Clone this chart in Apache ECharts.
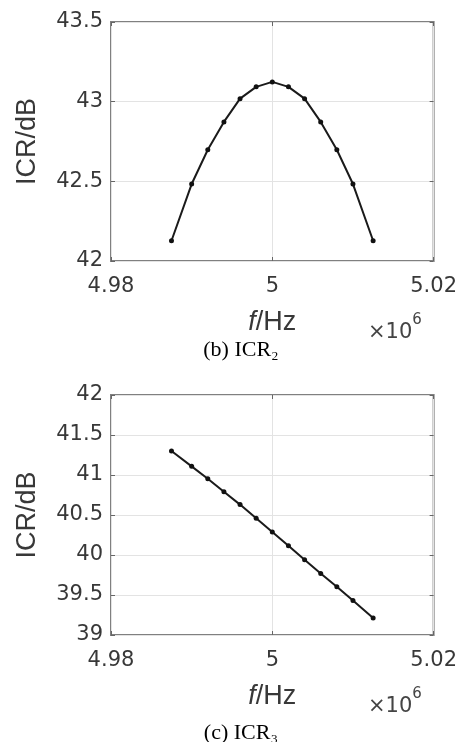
<!DOCTYPE html>
<html>
<head>
<meta charset="utf-8">
<script src="https://cdn.jsdelivr.net/npm/echarts@6/dist/echarts.min.js"></script>
<style>
  html, body { margin: 0; padding: 0; background: #fff; }
  #chart { width: 460px; height: 742px; }
</style>
</head>
<body>
<div id="chart"></div>
<script>
// frequency points in Hz (axis shows them in units of 10^6)
const freqHz = [4987500, 4990000, 4992000, 4994000, 4996000, 4998000, 5000000,
                5002000, 5004000, 5006000, 5008000, 5010000, 5012500];
// ICR2 in dB (panel b)
const icr2 = [42.127, 42.483, 42.698, 42.873, 43.019, 43.093, 43.124,
              43.093, 43.019, 42.873, 42.698, 42.483, 42.127];
// ICR3 in dB (panel c)
const icr3 = [41.300, 41.108, 40.954, 40.790, 40.630, 40.458, 40.288,
              40.117, 39.942, 39.770, 39.604, 39.430, 39.213];

const xTicks = { min: 4980000, max: 5020000, interval: 20000 };
const yTicksB = { min: 42, max: 43.5, interval: 0.5 };
const yTicksC = { min: 39, max: 42, interval: 0.5 };

const tickFont = 'DejaVu Sans';
const nameFont = 'Liberation Sans';
const textColor = '#383838';

const chart = echarts.init(document.getElementById('chart'), null, { renderer: 'canvas' });

function mainX(gridIndex) {
  return {
    type: 'value', gridIndex: gridIndex,
    min: xTicks.min, max: xTicks.max, interval: xTicks.interval,
    name: '{i|f}/Hz', nameLocation: 'middle', nameGap: 48,
    nameTextStyle: {
      fontFamily: nameFont, fontSize: 27, color: textColor,
      rich: { i: { fontFamily: nameFont, fontSize: 27, fontStyle: 'italic', color: textColor } }
    },
    axisLine: { show: false },
    axisTick: { show: true, inside: true, length: 4, lineStyle: { color: '#666' } },
    axisLabel: {
      margin: 15, fontFamily: tickFont, fontSize: 21, color: textColor,
      formatter: v => String(+(v / 1e6).toFixed(2))
    },
    splitLine: { show: true, lineStyle: { color: '#e3e3e3', width: 1 } }
  };
}
function topX(gridIndex) {
  return {
    type: 'value', gridIndex: gridIndex, position: 'top',
    min: xTicks.min, max: xTicks.max, interval: xTicks.interval,
    axisLine: { show: false },
    axisTick: { show: true, inside: true, length: 4, lineStyle: { color: '#666' } },
    axisLabel: { show: false }, splitLine: { show: false }
  };
}
function mainY(gridIndex, t) {
  return {
    type: 'value', gridIndex: gridIndex,
    min: t.min, max: t.max, interval: t.interval,
    name: 'ICR/dB', nameLocation: 'middle', nameGap: 70, nameRotate: 90,
    nameTextStyle: { fontFamily: nameFont, fontSize: 27, color: textColor },
    axisLine: { show: false },
    axisTick: { show: true, inside: true, length: 4, lineStyle: { color: '#666' } },
    axisLabel: { margin: 8, fontFamily: tickFont, fontSize: 21, color: textColor },
    splitLine: { show: true, lineStyle: { color: '#e3e3e3', width: 1 } }
  };
}
function rightY(gridIndex, t) {
  return {
    type: 'value', gridIndex: gridIndex, position: 'right',
    min: t.min, max: t.max, interval: t.interval,
    axisLine: { show: false },
    axisTick: { show: true, inside: true, length: 4, lineStyle: { color: '#666' } },
    axisLabel: { show: false }, splitLine: { show: false }
  };
}
function curve(name, xIdx, yIdx, values) {
  return {
    name: name, type: 'line', xAxisIndex: xIdx, yAxisIndex: yIdx,
    data: freqHz.map((f, i) => [f, values[i]]),
    symbol: 'circle', symbolSize: 5, showSymbol: true,
    lineStyle: { color: '#1a1a1a', width: 2 },
    itemStyle: { color: '#111' },
    animation: false
  };
}
function exponent(x, y) {
  return {
    type: 'text', left: x, top: y,
    style: {
      text: '{a|×10}{b|6}',
      rich: {
        a: { fontFamily: tickFont, fontSize: 21, fill: '#444', lineHeight: 30, verticalAlign: 'bottom' },
        b: { fontFamily: tickFont, fontSize: 15, fill: '#444', lineHeight: 30, verticalAlign: 'top' }
      }
    }
  };
}
function caption(text, y) {
  return {
    type: 'text', x: 241, y: y,
    style: {
      text: text, fontFamily: 'Liberation Serif', fontSize: 22, fill: '#000',
      textAlign: 'center', textVerticalAlign: 'middle'
    }
  };
}

chart.setOption({
  backgroundColor: '#fff',
  animation: false,
  grid: [
    { left: 111, top: 22, width: 323, height: 239, show: true, borderColor: '#808080', borderWidth: 2, containLabel: false },
    { left: 111, top: 395, width: 323, height: 240, show: true, borderColor: '#808080', borderWidth: 2, containLabel: false }
  ],
  xAxis: [mainX(0), topX(0), mainX(1), topX(1)],
  yAxis: [mainY(0, yTicksB), rightY(0, yTicksB), mainY(1, yTicksC), rightY(1, yTicksC)],
  series: [
    curve('ICR2', 0, 0, icr2),
    curve('ICR3', 2, 2, icr3)
  ],
  graphic: [
    exponent(368, 313),
    exponent(368, 687),
    caption('(b) ICR₂', 350),
    caption('(c) ICR₃', 733)
  ]
});
</script>
</body>
</html>
